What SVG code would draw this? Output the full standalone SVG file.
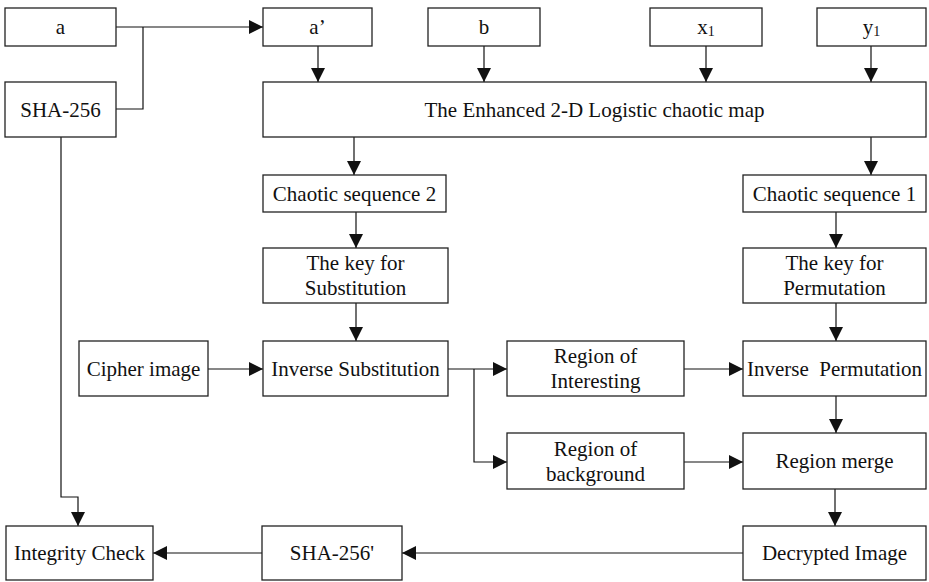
<svg xmlns="http://www.w3.org/2000/svg" width="929" height="582" viewBox="0 0 929 582">
<style>
.box{fill:#fff;stroke:#222;stroke-width:1.3}
text{font-family:"Liberation Serif","Times New Roman",serif;font-size:21px;fill:#111;text-anchor:middle;dominant-baseline:central}
.c{fill:none;stroke:#111;stroke-width:1.2}
</style>
<defs>
<marker id="ar" viewBox="0 0 10 10" refX="10" refY="5" markerWidth="14" markerHeight="14" markerUnits="userSpaceOnUse" orient="auto">
<path d="M0,0 L10,5 L0,10 Z" fill="#111"/>
</marker>
</defs>
<g id="connectors">
<path class="c" d="M116,27 H263" marker-end="url(#ar)"/>
<path class="c" d="M116,109 H143 V27"/>
<path class="c" d="M318,46 V82" marker-end="url(#ar)"/>
<path class="c" d="M484,46 V82" marker-end="url(#ar)"/>
<path class="c" d="M706,46 V82" marker-end="url(#ar)"/>
<path class="c" d="M871,46 V82" marker-end="url(#ar)"/>
<path class="c" d="M354,137 V175" marker-end="url(#ar)"/>
<path class="c" d="M871,137 V175" marker-end="url(#ar)"/>
<path class="c" d="M356,212 V248" marker-end="url(#ar)"/>
<path class="c" d="M836,212 V248" marker-end="url(#ar)"/>
<path class="c" d="M356,303 V341" marker-end="url(#ar)"/>
<path class="c" d="M836,303 V341" marker-end="url(#ar)"/>
<path class="c" d="M208,369 H263" marker-end="url(#ar)"/>
<path class="c" d="M448,369 H507" marker-end="url(#ar)"/>
<path class="c" d="M474,369 V462 H507" marker-end="url(#ar)"/>
<path class="c" d="M684,369 H743" marker-end="url(#ar)"/>
<path class="c" d="M684,462 H743" marker-end="url(#ar)"/>
<path class="c" d="M836,396 V433" marker-end="url(#ar)"/>
<path class="c" d="M835,489 V526" marker-end="url(#ar)"/>
<path class="c" d="M743,553 H402" marker-end="url(#ar)"/>
<path class="c" d="M262,553 H153" marker-end="url(#ar)"/>
<path class="c" d="M61,137 V497 H78 V526" marker-end="url(#ar)"/>
</g>
<g id="n_a"><rect class="box" x="5" y="8" width="111" height="38"/><text x="60.5" y="27">a</text></g>
<g id="n_sha"><rect class="box" x="5" y="82" width="111" height="55"/><text x="60.5" y="109.5">SHA-256</text></g>
<g id="n_a2"><rect class="box" x="263" y="8" width="109" height="38"/><text x="317.5" y="27">a’</text></g>
<g id="n_b"><rect class="box" x="428" y="8" width="112" height="38"/><text x="484" y="27">b</text></g>
<g id="n_x1"><rect class="box" x="650" y="8" width="112" height="38"/><text x="706" y="27">x<tspan font-size="14" dy="4">1</tspan></text></g>
<g id="n_y1"><rect class="box" x="817" y="8" width="109" height="38"/><text x="871.5" y="27">y<tspan font-size="14" dy="4">1</tspan></text></g>
<g id="n_map"><rect class="box" x="263" y="82" width="663" height="55"/><text x="594.5" y="109.5">The Enhanced 2-D Logistic chaotic map</text></g>
<g id="n_cs2"><rect class="box" x="263" y="175" width="183" height="37"/><text x="354.5" y="193.5">Chaotic sequence 2</text></g>
<g id="n_cs1"><rect class="box" x="743" y="175" width="183" height="37"/><text x="834.5" y="193.5">Chaotic sequence 1</text></g>
<g id="n_ks"><rect class="box" x="263" y="248" width="185" height="55"/><text x="355.5" y="263">The key for</text><text x="355.5" y="288">Substitution</text></g>
<g id="n_kp"><rect class="box" x="743" y="248" width="183" height="55"/><text x="834.5" y="263">The key for</text><text x="834.5" y="288">Permutation</text></g>
<g id="n_cipher"><rect class="box" x="79" y="341" width="129" height="55"/><text x="143.5" y="368.5">Cipher image</text></g>
<g id="n_isub"><rect class="box" x="263" y="341" width="185" height="55"/><text x="355.5" y="368.5">Inverse Substitution</text></g>
<g id="n_roi"><rect class="box" x="507" y="341" width="177" height="55"/><text x="595.5" y="356">Region of</text><text x="595.5" y="381">Interesting</text></g>
<g id="n_iperm"><rect class="box" x="743" y="341" width="183" height="55"/><text x="834.5" y="368.5" xml:space="preserve">Inverse  Permutation</text></g>
<g id="n_rob"><rect class="box" x="507" y="433" width="177" height="56"/><text x="595.5" y="448.5">Region of</text><text x="595.5" y="473.5">background</text></g>
<g id="n_merge"><rect class="box" x="743" y="433" width="183" height="56"/><text x="834.5" y="461">Region merge</text></g>
<g id="n_integ"><rect class="box" x="6" y="526" width="147" height="54"/><text x="79.5" y="553">Integrity Check</text></g>
<g id="n_sha2"><rect class="box" x="262" y="526" width="140" height="54"/><text x="332" y="553">SHA-256'</text></g>
<g id="n_dec"><rect class="box" x="743" y="526" width="183" height="54"/><text x="834.5" y="553">Decrypted Image</text></g>
</svg>
